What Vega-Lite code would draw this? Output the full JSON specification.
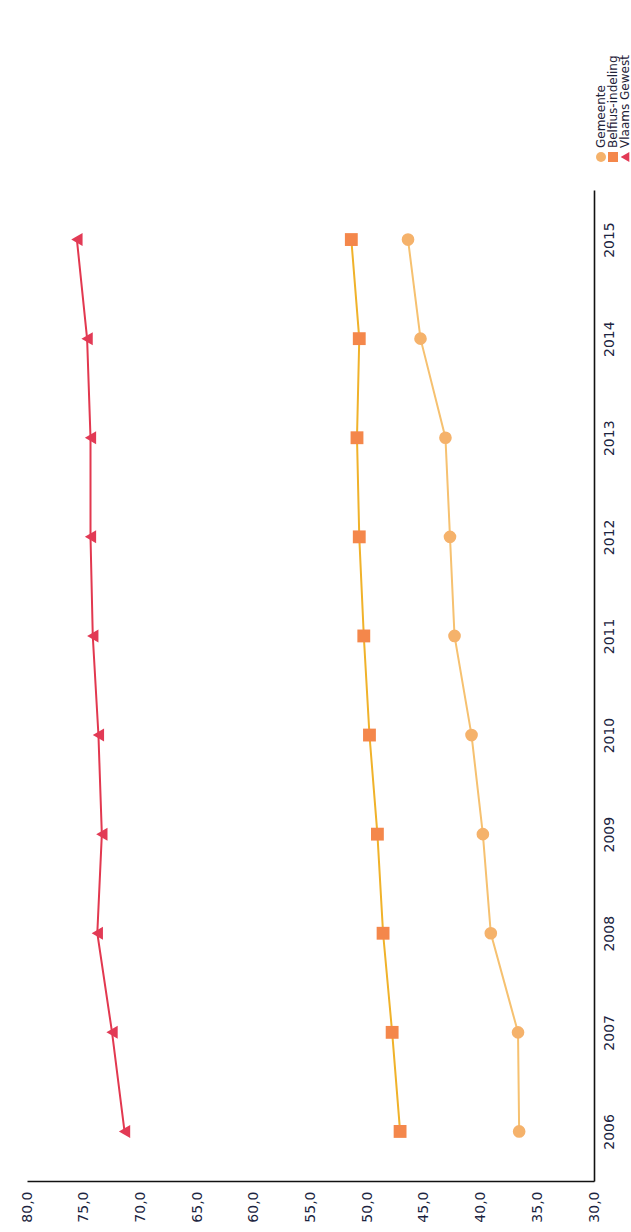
{
  "$schema": "https://vega.github.io/schema/vega-lite/v6.json",
  "padding": {"left": 20, "top": 7, "right": 0, "bottom": 2},
  "background": "white",
  "config": {"view": {"stroke": null}, "font": "DejaVu Sans"},
  "datasets": {
    "series": [
      {"year": 2006, "series": "Gemeente", "value": 36.6},
      {"year": 2007, "series": "Gemeente", "value": 36.7},
      {"year": 2008, "series": "Gemeente", "value": 39.1},
      {"year": 2009, "series": "Gemeente", "value": 39.8},
      {"year": 2010, "series": "Gemeente", "value": 40.8},
      {"year": 2011, "series": "Gemeente", "value": 42.3},
      {"year": 2012, "series": "Gemeente", "value": 42.7},
      {"year": 2013, "series": "Gemeente", "value": 43.1},
      {"year": 2014, "series": "Gemeente", "value": 45.3},
      {"year": 2015, "series": "Gemeente", "value": 46.4},
      {"year": 2006, "series": "Belfius-indeling", "value": 47.1},
      {"year": 2007, "series": "Belfius-indeling", "value": 47.8},
      {"year": 2008, "series": "Belfius-indeling", "value": 48.6},
      {"year": 2009, "series": "Belfius-indeling", "value": 49.1},
      {"year": 2010, "series": "Belfius-indeling", "value": 49.8},
      {"year": 2011, "series": "Belfius-indeling", "value": 50.3},
      {"year": 2012, "series": "Belfius-indeling", "value": 50.7},
      {"year": 2013, "series": "Belfius-indeling", "value": 50.9},
      {"year": 2014, "series": "Belfius-indeling", "value": 50.7},
      {"year": 2015, "series": "Belfius-indeling", "value": 51.4},
      {"year": 2006, "series": "Vlaams Gewest", "value": 71.4},
      {"year": 2007, "series": "Vlaams Gewest", "value": 72.5},
      {"year": 2008, "series": "Vlaams Gewest", "value": 73.8},
      {"year": 2009, "series": "Vlaams Gewest", "value": 73.4},
      {"year": 2010, "series": "Vlaams Gewest", "value": 73.7},
      {"year": 2011, "series": "Vlaams Gewest", "value": 74.2},
      {"year": 2012, "series": "Vlaams Gewest", "value": 74.4},
      {"year": 2013, "series": "Vlaams Gewest", "value": 74.4},
      {"year": 2014, "series": "Vlaams Gewest", "value": 74.7},
      {"year": 2015, "series": "Vlaams Gewest", "value": 75.6}
    ],
    "legend": [
      {"series": "Gemeente"},
      {"series": "Belfius-indeling"},
      {"series": "Vlaams Gewest"}
    ]
  },
  "spacing": 33,
  "bounds": "flush",
  "resolve": {"scale": {"x": "independent", "y": "independent", "size": "independent"}},
  "vconcat": [
    {
      "width": 597,
      "height": 150,
      "data": {"name": "legend"},
      "encoding": {
        "x": {
          "field": "series",
          "type": "nominal",
          "scale": {"type": "point", "domain": ["Gemeente", "Belfius-indeling", "Vlaams Gewest"], "padding": 0, "range": [574, 598]},
          "axis": null
        }
      },
      "layer": [
        {
          "mark": {"type": "point", "filled": true, "opacity": 1, "y": "height"},
          "encoding": {
            "shape": {"field": "series", "type": "nominal", "scale": {"domain": ["Gemeente", "Belfius-indeling", "Vlaams Gewest"], "range": ["circle", "square", "triangle-left"]}, "legend": null},
            "fill": {"field": "series", "type": "nominal", "scale": {"domain": ["Gemeente", "Belfius-indeling", "Vlaams Gewest"], "range": ["#f5b26b", "#f4874b", "#e23a55"]}, "legend": null},
            "size": {"field": "series", "type": "nominal", "scale": {"domain": ["Gemeente", "Belfius-indeling", "Vlaams Gewest"], "range": [100, 100, 90]}, "legend": null}
          }
        },
        {
          "mark": {"type": "text", "y": "height", "angle": 270, "align": "left", "baseline": "middle", "dx": 9, "fontSize": 12, "color": "#1e2238", "font": "DejaVu Sans"},
          "encoding": {"text": {"field": "series", "type": "nominal"}}
        }
      ]
    },
    {
      "width": 567,
      "height": 991,
      "data": {"name": "series"},
      "encoding": {
        "x": {
          "field": "value",
          "type": "quantitative",
          "scale": {"domain": [30, 80], "reverse": true, "nice": false, "zero": false},
          "axis": {
            "orient": "bottom",
            "values": [30, 35, 40, 45, 50, 55, 60, 65, 70, 75, 80],
            "labelExpr": "replace(format(datum.value, '.1f'), '.', ',')",
            "labelAngle": 270,
            "labelAlign": "right",
            "labelBaseline": "middle",
            "labelPadding": 10,
            "labelFontSize": 14,
            "labelColor": "#1b2340",
            "labelFont": "DejaVu Sans",
            "labelFlush": false,
            "labelOverlap": false,
            "ticks": false,
            "grid": false,
            "title": null,
            "domainColor": "#111111",
            "domainWidth": 1.6
          }
        },
        "y": {
          "field": "year",
          "type": "quantitative",
          "scale": {"domain": [2005.5, 2015.5], "nice": false, "zero": false},
          "axis": {
            "orient": "right",
            "values": [2006, 2007, 2008, 2009, 2010, 2011, 2012, 2013, 2014, 2015],
            "format": "d",
            "labelAngle": 270,
            "labelAlign": "center",
            "labelBaseline": "top",
            "labelPadding": 8,
            "labelFontSize": 14,
            "labelColor": "#1b2340",
            "labelFont": "DejaVu Sans",
            "labelFlush": false,
            "labelOverlap": false,
            "ticks": false,
            "grid": false,
            "title": null,
            "domainColor": "#111111",
            "domainWidth": 1.6
          }
        }
      },
      "layer": [
        {
          "mark": {"type": "line", "strokeWidth": 2},
          "encoding": {
            "stroke": {"field": "series", "type": "nominal", "scale": {"domain": ["Gemeente", "Belfius-indeling", "Vlaams Gewest"], "range": ["#f6c170", "#f0b22a", "#e2384f"]}, "legend": null},
            "order": {"field": "year", "type": "quantitative"}
          }
        },
        {
          "mark": {"type": "point", "filled": true, "opacity": 1},
          "encoding": {
            "shape": {"field": "series", "type": "nominal", "scale": {"domain": ["Gemeente", "Belfius-indeling", "Vlaams Gewest"], "range": ["circle", "square", "triangle-left"]}, "legend": null},
            "fill": {"field": "series", "type": "nominal", "scale": {"domain": ["Gemeente", "Belfius-indeling", "Vlaams Gewest"], "range": ["#f5b26b", "#f4874b", "#e23a55"]}, "legend": null},
            "size": {"field": "series", "type": "nominal", "scale": {"domain": ["Gemeente", "Belfius-indeling", "Vlaams Gewest"], "range": [160, 170, 140]}, "legend": null}
          }
        }
      ]
    }
  ]
}
